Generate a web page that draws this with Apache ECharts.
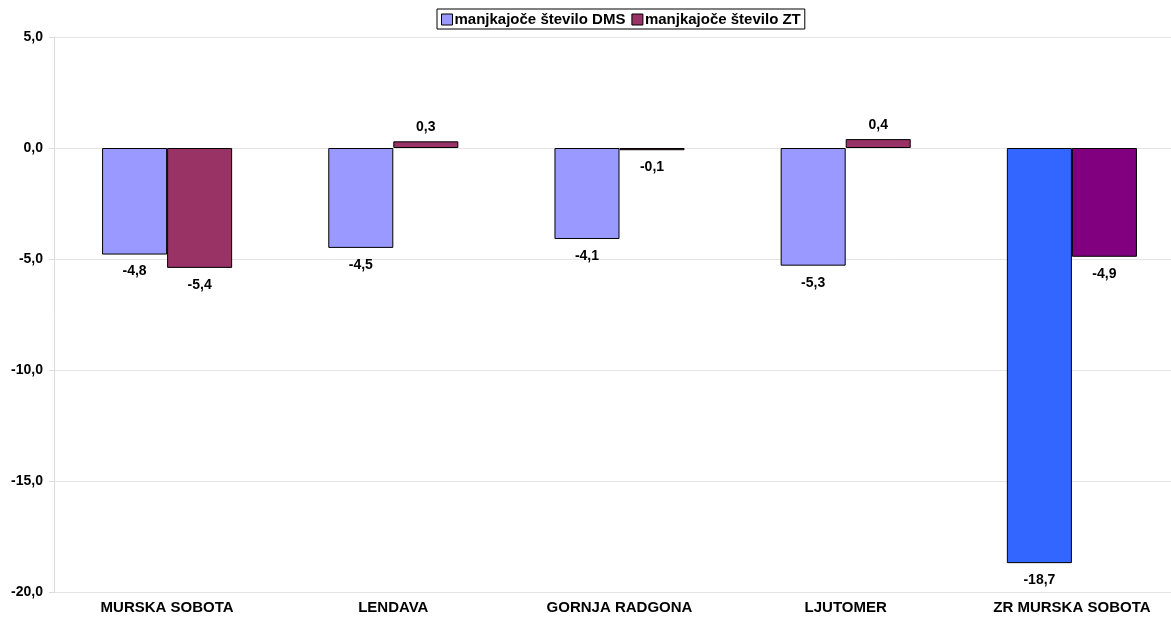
<!DOCTYPE html>
<html>
<head>
<meta charset="utf-8">
<script src="https://cdn.jsdelivr.net/npm/echarts@6/dist/echarts.min.js"></script>
<style>
  html, body { margin: 0; padding: 0; background: #fff; }
  #main { width: 1171px; height: 619px; }
</style>
</head>
<body>
<div id="main"></div>
<script>
// podatki
var categories = ['MURSKA SOBOTA', 'LENDAVA', 'GORNJA RADGONA', 'LJUTOMER', 'ZR MURSKA SOBOTA'];
var dmsValues = [-4.8, -4.5, -4.1, -5.3, -18.7];
var ztValues = [-5.4, 0.3, -0.1, 0.4, -4.9];
var yTicks = [-20, -15, -10, -5, 0, 5];

var dmsColor = '#9999FF';
var ztColor = '#993366';
// zadnja skupina (ZR) ima drugačne barve
var dmsColorZR = '#3366FF';
var ztColorZR = '#800080';

function fmt(v) {
  return v.toFixed(1).replace('.', ',');
}

function buildData(values, color, lastColor) {
  return values.map(function (v, i) {
    return {
      value: v,
      itemStyle: { color: i === values.length - 1 ? lastColor : color },
      label: v < 0 ? { position: 'bottom', distance: 10 } : { position: 'top', distance: 7 }
    };
  });
}

var chart = echarts.init(document.getElementById('main'));
var option = {
  animation: false,
  textStyle: { fontFamily: 'Liberation Sans, Arial, sans-serif' },
  legend: {
    top: 9,
    left: 437,
    padding: [3, 4, 2, 4],
    itemGap: 6,
    itemWidth: 11,
    itemHeight: 11,
    borderColor: '#000',
    borderWidth: 1,
    textStyle: { fontWeight: 'bold', fontSize: 15, color: '#000', padding: [0, 0, 0, -3] },
    data: [
      { name: 'manjkajoče število DMS', icon: 'rect', itemStyle: { color: dmsColor, borderColor: '#000', borderWidth: 1 } },
      { name: 'manjkajoče število ZT', icon: 'rect', itemStyle: { color: ztColor, borderColor: '#000', borderWidth: 1 } }
    ]
  },
  grid: {
    left: 54,
    width: 1131,
    top: 37,
    height: 555,
    containLabel: false,
    outerBoundsMode: 'none'
  },
  xAxis: {
    type: 'category',
    data: categories,
    axisLine: { onZero: false, show: false },
    axisTick: { show: false },
    axisLabel: { fontWeight: 'bold', fontSize: 15, color: '#000', margin: 8 }
  },
  yAxis: {
    type: 'value',
    min: yTicks[0],
    max: yTicks[yTicks.length - 1],
    interval: 5,
    axisLine: { show: true, lineStyle: { color: '#dcdcdc' } },
    axisTick: { show: true, length: 5, lineStyle: { color: '#dcdcdc' } },
    splitLine: { lineStyle: { color: '#e4e4e4' } },
    axisLabel: {
      fontWeight: 'bold', fontSize: 14, color: '#000', margin: 11,
      formatter: function (v) { return fmt(v); }
    }
  },
  series: [
    {
      name: 'manjkajoče število DMS',
      type: 'bar',
      barGap: '0%',
      barCategoryGap: '42.5%',
      data: buildData(dmsValues, dmsColor, dmsColorZR),
      itemStyle: { borderColor: '#000', borderWidth: 1 },
      label: {
        show: true, fontWeight: 'bold', fontSize: 14, color: '#000',
        formatter: function (p) { return fmt(p.value); }
      }
    },
    {
      name: 'manjkajoče število ZT',
      type: 'bar',
      barGap: '0%',
      barCategoryGap: '42.5%',
      data: buildData(ztValues, ztColor, ztColorZR),
      itemStyle: { borderColor: '#000', borderWidth: 1 },
      label: {
        show: true, fontWeight: 'bold', fontSize: 14, color: '#000',
        formatter: function (p) { return fmt(p.value); }
      }
    }
  ]
};
chart.setOption(option);
</script>
</body>
</html>
